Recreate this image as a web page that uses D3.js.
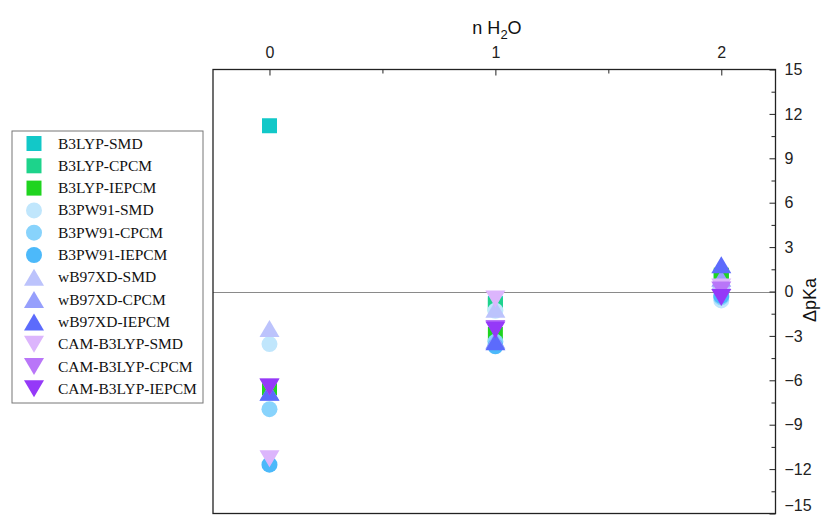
<!DOCTYPE html>
<html>
<head>
<meta charset="utf-8">
<script src="https://cdn.jsdelivr.net/npm/d3@7"></script>
<style>
  body { margin: 0; background: #fff; }
  svg { display: block; }
  .axis text { font-family: "Liberation Sans", Arial, sans-serif; font-size: 16px; fill: #222; }
  .axis line { stroke: #222; }
  .legend text { font-family: "Liberation Serif", "Times New Roman", serif; font-size: 15.5px; fill: #111; }
</style>
</head>
<body>
<div id="chart-area"></div>
<script>
// DATA (x = number of water molecules, y = delta pKa)
const nWater = [0, 1, 2]
const seriesNames = [
  'B3LYP-SMD', 'B3LYP-CPCM', 'B3LYP-IEPCM',
  'B3PW91-SMD', 'B3PW91-CPCM', 'B3PW91-IEPCM',
  'wB97XD-SMD', 'wB97XD-CPCM', 'wB97XD-IEPCM',
  'CAM-B3LYP-SMD', 'CAM-B3LYP-CPCM', 'CAM-B3LYP-IEPCM'
]
const b3lypSMD = [11.2, -0.8, 0.9]
const b3lypCPCM = [-6.5, -0.9, 1.0]
const b3lypIEPCM = [-6.5, -2.9, 1.1]
const b3pw91SMD = [-3.55, -1.3, -0.6]
const b3pw91CPCM = [-7.95, -3.4, -0.4]
const b3pw91IEPCM = [-11.7, -3.7, -0.3]
const wb97xdSMD = [-2.5, -1.2, 0.7]
const wb97xdCPCM = [-6.8, -3.3, 0.9]
const wb97xdIEPCM = [-6.8, -3.4, 1.8]
const camSMD = [-11.3, -0.5, 0.3]
const camCPCM = [-6.45, -2.5, 0.1]
const camIEPCM = [-6.45, -2.6, -0.4]
const seriesValues = [
  b3lypSMD, b3lypCPCM, b3lypIEPCM,
  b3pw91SMD, b3pw91CPCM, b3pw91IEPCM,
  wb97xdSMD, wb97xdCPCM, wb97xdIEPCM,
  camSMD, camCPCM, camIEPCM
]
const xTicks = [0, 1, 2]
const yTicks = [-15, -12, -9, -6, -3, 0, 3, 6, 9, 12, 15]

// STYLES
const shapes = ['square', 'square', 'square', 'circle', 'circle', 'circle',
                'up', 'up', 'up', 'down', 'down', 'down']
const colors = ['#12c8c8', '#1dd38b', '#1fd41f',
                '#c0e6fc', '#88d3fc', '#4cb9fa',
                '#bcc3fc', '#969ffc', '#5c6bfc',
                '#dcb5fc', '#b976f8', '#9539f8']

// CHART SIZE
const W = 822
const H = 516
const plot = { left: 213, right: 775.5, top: 69.5, bottom: 513.5 }

const svg = d3.select('#chart-area')
              .append('svg')
              .attr('width', W)
              .attr('height', H)

const x = d3.scaleLinear()
            .domain([-0.25, 2.24])
            .range([plot.left, plot.right])

const y = d3.scaleLinear()
            .domain([-15, 15])
            .range([plot.bottom, plot.top])

// MARKER SHAPES
const markerPath = shape => {
  const p = d3.path()
  if (shape === 'square') {
    p.rect(-7.5, -7.5, 15, 15)
  } else if (shape === 'circle') {
    p.arc(0, 0, 8, 0, 2 * Math.PI)
  } else if (shape === 'up') {
    p.moveTo(0, -8.5); p.lineTo(10, 8.5); p.lineTo(-10, 8.5); p.closePath()
  } else {
    p.moveTo(-10, -8.5); p.lineTo(10, -8.5); p.lineTo(0, 8.5); p.closePath()
  }
  return p.toString()
}

// ZERO LINE
svg.append('line')
   .attr('x1', plot.left).attr('x2', plot.right)
   .attr('y1', Math.round(y(0)) + 0.5).attr('y2', Math.round(y(0)) + 0.5)
   .attr('stroke', '#8a8a8a')
   .attr('stroke-width', 1.2)

// FRAME
svg.append('rect')
   .attr('x', plot.left).attr('y', plot.top)
   .attr('width', plot.right - plot.left)
   .attr('height', plot.bottom - plot.top)
   .attr('fill', 'none')
   .attr('stroke', '#222')
   .attr('stroke-width', 1.3)

// TOP AXIS
const topAxis = svg.append('g')
   .attr('class', 'axis')
   .attr('transform', 'translate(0,' + plot.top + ')')
   .call(d3.axisTop(x).tickValues(xTicks).tickFormat(d3.format('d'))
           .tickSizeInner(-6).tickSizeOuter(0).tickPadding(12))
topAxis.select('.domain').remove()

const topMinor = svg.append('g')
   .attr('class', 'axis')
   .attr('transform', 'translate(0,' + plot.top + ')')
   .call(d3.axisTop(x).tickValues([0.5, 1.5]).tickFormat('')
           .tickSizeInner(-4).tickSizeOuter(0))
topMinor.select('.domain').remove()

// RIGHT AXIS
const rightAxis = svg.append('g')
   .attr('class', 'axis')
   .attr('transform', 'translate(' + plot.right + ',0)')
   .call(d3.axisRight(y).tickValues(yTicks)
           .tickSizeInner(-6).tickSizeOuter(0).tickPadding(9))
rightAxis.select('.domain').remove()
// keep the bottom label inside the page
rightAxis.selectAll('.tick text')
         .filter(d => d === -15)
         .attr('dy', '-0.2em')

const rightMinor = svg.append('g')
   .attr('class', 'axis')
   .attr('transform', 'translate(' + plot.right + ',0)')
   .call(d3.axisRight(y).tickValues(yTicks.slice(0, -1).map(d => d + 1.5)).tickFormat('')
           .tickSizeInner(-4).tickSizeOuter(0))
rightMinor.select('.domain').remove()

// AXIS TITLES
const title = svg.append('text')
   .attr('x', 497)
   .attr('y', 34)
   .attr('text-anchor', 'middle')
   .attr('font-family', '"Liberation Sans", Arial, sans-serif')
   .attr('font-size', '18px')
   .attr('fill', '#111')
title.append('tspan').text('n H')
title.append('tspan').attr('dy', 5).attr('font-size', '13px').text('2')
title.append('tspan').attr('dy', -5).text('O')

svg.append('text')
   .attr('transform', 'translate(816,300) rotate(-90)')
   .attr('text-anchor', 'middle')
   .attr('font-family', '"Liberation Sans", Arial, sans-serif')
   .attr('font-size', '18px')
   .attr('fill', '#111')
   .text('ΔpKa')

// DATA POINTS
seriesValues.forEach((vals, i) => {
  svg.append('g')
     .selectAll('path')
     .data(vals)
     .enter()
     .append('path')
     .attr('transform', (d, j) => 'translate(' + x(nWater[j]) + ',' + y(d) + ')')
     .attr('d', markerPath(shapes[i]))
     .attr('fill', colors[i])
})

// LEGEND
const legend = svg.append('g').attr('class', 'legend')
legend.append('rect')
      .attr('x', 12).attr('y', 131)
      .attr('width', 191).attr('height', 272)
      .attr('fill', '#fff')
      .attr('stroke', '#777')
      .attr('stroke-width', 1)

const rows = legend.selectAll('g.row')
      .data(seriesNames)
      .enter()
      .append('g')
      .attr('class', 'row')
      .attr('transform', (d, i) => 'translate(0,' + (143.5 + i * 22.3) + ')')

rows.append('path')
    .attr('transform', 'translate(34,0)')
    .attr('d', (d, i) => markerPath(shapes[i]))
    .attr('fill', (d, i) => colors[i])

rows.append('text')
    .attr('x', 58)
    .attr('y', 5)
    .text(d => d)
</script>
</body>
</html>
